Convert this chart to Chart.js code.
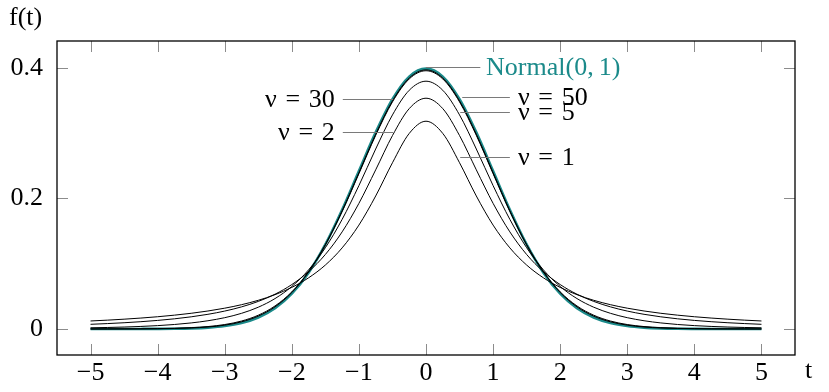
<!DOCTYPE html>
<html>
<head>
<meta charset="utf-8">
<script src="https://cdn.jsdelivr.net/npm/chart.js@4.4.1/dist/chart.umd.min.js"></script>
<style>
  html, body { margin: 0; padding: 0; background: #fff; }
  canvas { display: block; }
</style>
</head>
<body>
<canvas id="chart" width="829" height="392"></canvas>
<script>
// t values, -5 .. 5 in steps of 0.25
const T = [
  -5, -4.75, -4.5, -4.25, -4, -3.75, -3.5, -3.25, -3, -2.75, -2.5, -2.25, -2, -1.75, -1.5, -1.25, -1, -0.75, -0.5, -0.25,
  0,
  0.25, 0.5, 0.75, 1, 1.25, 1.5, 1.75, 2, 2.25, 2.5, 2.75, 3, 3.25, 3.5, 3.75, 4, 4.25, 4.5, 4.75, 5,
];

const normal = [
  0.00000, 0.00001, 0.00002, 0.00005, 0.00013, 0.00035, 0.00087, 0.00203, 0.00443, 0.00909, 0.01753, 0.03174, 0.05399, 0.08628, 0.12952, 0.18265, 0.24197, 0.30114, 0.35207, 0.38667,
  0.39894,
  0.38667, 0.35207, 0.30114, 0.24197, 0.18265, 0.12952, 0.08628, 0.05399, 0.03174, 0.01753, 0.00909, 0.00443, 0.00203, 0.00087, 0.00035, 0.00013, 0.00005, 0.00002, 0.00001, 0.00000,
];
const nu50 = [
  0.00001, 0.00003, 0.00007, 0.00015, 0.00033, 0.00071, 0.00149, 0.00299, 0.00583, 0.01094, 0.01970, 0.03393, 0.05577, 0.08717, 0.12920, 0.18112, 0.23957, 0.29843, 0.34954, 0.38450,
  0.39695,
  0.38450, 0.34954, 0.29843, 0.23957, 0.18112, 0.12920, 0.08717, 0.05577, 0.03393, 0.01970, 0.01094, 0.00583, 0.00299, 0.00149, 0.00071, 0.00033, 0.00015, 0.00007, 0.00003, 0.00001,
];
const nu30 = [
  0.00003, 0.00007, 0.00013, 0.00027, 0.00053, 0.00102, 0.00196, 0.00369, 0.00678, 0.01214, 0.02106, 0.03528, 0.05685, 0.08765, 0.12896, 0.18010, 0.23799, 0.29665, 0.34788, 0.38307,
  0.39563,
  0.38307, 0.34788, 0.29665, 0.23799, 0.18010, 0.12896, 0.08765, 0.05685, 0.03528, 0.02106, 0.01214, 0.00678, 0.00369, 0.00196, 0.00102, 0.00053, 0.00027, 0.00013, 0.00007, 0.00003,
];
const nu5 = [
  0.00176, 0.00227, 0.00295, 0.00387, 0.00512, 0.00685, 0.00924, 0.01259, 0.01729, 0.02394, 0.03333, 0.04657, 0.06509, 0.09053, 0.12452, 0.16789, 0.21968, 0.27570, 0.32792, 0.36572,
  0.37961,
  0.36572, 0.32792, 0.27570, 0.21968, 0.16789, 0.12452, 0.09053, 0.06509, 0.04657, 0.03333, 0.02394, 0.01729, 0.01259, 0.00924, 0.00685, 0.00512, 0.00387, 0.00295, 0.00227, 0.00176,
];
const nu2 = [
  0.00713, 0.00822, 0.00953, 0.01113, 0.01309, 0.01553, 0.01859, 0.02246, 0.02741, 0.03382, 0.04220, 0.05328, 0.06804, 0.08779, 0.11413, 0.14873, 0.19245, 0.24379, 0.29630, 0.33761,
  0.35355,
  0.33761, 0.29630, 0.24379, 0.19245, 0.14873, 0.11413, 0.08779, 0.06804, 0.05328, 0.04220, 0.03382, 0.02741, 0.02246, 0.01859, 0.01553, 0.01309, 0.01113, 0.00953, 0.00822, 0.00713,
];
const nu1 = [
  0.01224, 0.01351, 0.01498, 0.01670, 0.01872, 0.02113, 0.02402, 0.02753, 0.03183, 0.03718, 0.04390, 0.05251, 0.06366, 0.07835, 0.09794, 0.12422, 0.15915, 0.20372, 0.25465, 0.29959,
  0.31831,
  0.29959, 0.25465, 0.20372, 0.15915, 0.12422, 0.09794, 0.07835, 0.06366, 0.05251, 0.04390, 0.03718, 0.03183, 0.02753, 0.02402, 0.02113, 0.01872, 0.01670, 0.01498, 0.01351, 0.01224,
];

const xTicks = [-5, -4, -3, -2, -1, 0, 1, 2, 3, 4, 5];
const yTicks = [0, 0.2, 0.4];

const teal = '#1b8a8a';
const fontFamily = '"Liberation Serif", "DejaVu Serif", serif';
const fontSize = 26;
const sp = '\u2004'; // a little wider than a normal space, like math spacing round "="

// pin labels: leader line from t0 to t1 at height y, text anchored at tx
const pins = [
  { text: 'Normal(0,\u20091)',   t0: 0,     t1: 0.81,  y: 0.401,  tx: 0.895, align: 'left',  color: teal },
  { text: `ν${sp}=${sp}30`,     t0: -1.24, t1: -0.49, y: 0.3525, tx: -1.36, align: 'right', color: '#000' },
  { text: `ν${sp}=${sp}2`,      t0: -1.24, t1: -0.49, y: 0.3024, tx: -1.36, align: 'right', color: '#000' },
  { text: `ν${sp}=${sp}50`,     t0: 0.54,  t1: 1.25,  y: 0.3551, tx: 1.37,  align: 'left',  color: '#000' },
  { text: `ν${sp}=${sp}5`,      t0: 0.51,  t1: 1.25,  y: 0.3321, tx: 1.37,  align: 'left',  color: '#000' },
  { text: `ν${sp}=${sp}1`,      t0: 0.51,  t1: 1.25,  y: 0.2631, tx: 1.37,  align: 'left',  color: '#000' },
];

const points = ys => ys.map((y, i) => ({ x: T[i], y }));

function series(data, color, width, order) {
    return {
        data: points(data),
        borderColor: color,
        borderWidth: width,
        pointRadius: 0,
        fill: false,
        cubicInterpolationMode: 'monotone',
        order,
    };
}

const frame = {
    id: 'frame',
    afterDatasetsDraw(chart) {
        const { ctx, chartArea: a, scales: { x, y } } = chart;
        ctx.save();

        // inward ticks on all four sides
        ctx.strokeStyle = '#8c8c8c';
        ctx.lineWidth = 1;
        const tl = 11;
        ctx.beginPath();
        xTicks.forEach(v => {
            const px = Math.round(x.getPixelForValue(v)) + 0.5;
            ctx.moveTo(px, a.bottom); ctx.lineTo(px, a.bottom - tl);
            ctx.moveTo(px, a.top);    ctx.lineTo(px, a.top + tl);
        });
        yTicks.forEach(v => {
            const py = Math.round(y.getPixelForValue(v)) + 0.5;
            ctx.moveTo(a.left, py);  ctx.lineTo(a.left + tl, py);
            ctx.moveTo(a.right, py); ctx.lineTo(a.right - tl, py);
        });
        ctx.stroke();

        // pins
        ctx.strokeStyle = '#7a7a7a';
        ctx.font = `${fontSize}px ${fontFamily}`;
        ctx.textBaseline = 'middle';
        pins.forEach(p => {
            const py = Math.round(y.getPixelForValue(p.y)) + 0.5;
            ctx.beginPath();
            ctx.moveTo(x.getPixelForValue(p.t0), py);
            ctx.lineTo(x.getPixelForValue(p.t1), py);
            ctx.stroke();
            ctx.fillStyle = p.color;
            ctx.textAlign = p.align;
            ctx.fillText(p.text, x.getPixelForValue(p.tx), py + 1);
        });

        // box
        ctx.strokeStyle = '#000';
        ctx.lineWidth = 1.3;
        ctx.strokeRect(a.left, a.top, a.right - a.left, a.bottom - a.top);

        // axis names
        ctx.fillStyle = '#000';
        ctx.textAlign = 'left';
        ctx.fillText('f(t)', 9, 18);
        ctx.fillText('t', 805, 371);
        ctx.restore();
    },
};

new Chart(document.getElementById('chart'), {
    type: 'line',
    data: {
        datasets: [
            series(nu1, '#000', 1, 1),
            series(nu2, '#000', 1, 2),
            series(nu5, '#000', 1, 3),
            series(nu30, '#000', 1, 4),
            series(nu50, '#000', 1, 5),
            series(normal, teal, 2.6, 6),
        ],
    },
    options: {
        responsive: false,
        animation: false,
        devicePixelRatio: 1,
        layout: { padding: { top: 41, right: 34, left: 0, bottom: 0 } },
        plugins: { legend: { display: false }, tooltip: { enabled: false } },
        scales: {
            x: {
                type: 'linear',
                min: -5.5,
                max: 5.5,
                grid: { display: false },
                border: { display: false },
                afterBuildTicks: axis => { axis.ticks = xTicks.map(v => ({ value: v })); },
                afterFit: axis => { axis.height = 37; },
                ticks: {
                    color: '#000',
                    padding: -5,
                    maxRotation: 0,
                    font: { family: fontFamily, size: fontSize },
                    callback: v => (v < 0 ? '\u2212' + Math.abs(v) : String(v)),
                },
            },
            y: {
                min: -0.0399,
                max: 0.4412,
                grid: { display: false },
                border: { display: false },
                afterBuildTicks: axis => { axis.ticks = yTicks.map(v => ({ value: v })); },
                afterFit: axis => { axis.width = 57; },
                ticks: {
                    color: '#000',
                    padding: 6,
                    font: { family: fontFamily, size: fontSize },
                    callback: v => String(v),
                },
            },
        },
    },
    plugins: [frame],
});
</script>
</body>
</html>
